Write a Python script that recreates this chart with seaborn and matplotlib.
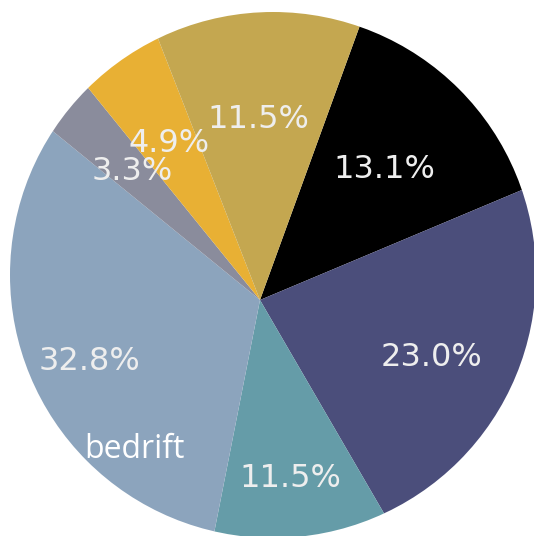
import matplotlib
matplotlib.use("Agg")
import matplotlib.pyplot as plt
from matplotlib.patches import Circle
import seaborn as sns

sns.set_theme(style="white")
plt.rcParams['font.family'] = ['DejaVu Sans']

# slice counts, clockwise from the black wedge
counts = [8, 14, 7, 20, 2, 3, 7]
colors = ['#000000', '#4b4e7b', '#659ca8', '#8ca4bd', '#8a8c9c', '#e8b034', '#c4a750']
inner_label = "bedrift"

W, H = 534, 536
fig = plt.figure(figsize=(W / 100, H / 100), dpi=100)
fig.patch.set_facecolor('white')
ax = fig.add_axes([0, 0, 1, 1])

# in the reference the wedge apex sits a bit off the centre of the outline,
# so draw a larger pie around the apex and clip it with the outline circle
apex = (260, H - 300)

wedges, texts, autotexts = ax.pie(
    counts,
    colors=colors,
    center=apex,
    radius=300,
    startangle=70,
    counterclock=False,
    autopct='%1.1f%%',
    pctdistance=0.603,
    textprops={'color': '#eeeeee', 'fontsize': 23},
    wedgeprops={'linewidth': 0},
)

ax.set_aspect('auto')
ax.set_xlim(0, W)
ax.set_ylim(0, H)
ax.axis('off')

outline = Circle((273, H - 275), 263, facecolor='none', edgecolor='none')
ax.add_patch(outline)
for w in wedges:
    w.set_clip_on(True)
    w.set_clip_path(outline)

ax.text(134, H - 450, inner_label, color='white', fontsize=23,
        family='Open Sans', ha='center', va='center')

plt.savefig("out.png", dpi=100, facecolor='white')
plt.close()
